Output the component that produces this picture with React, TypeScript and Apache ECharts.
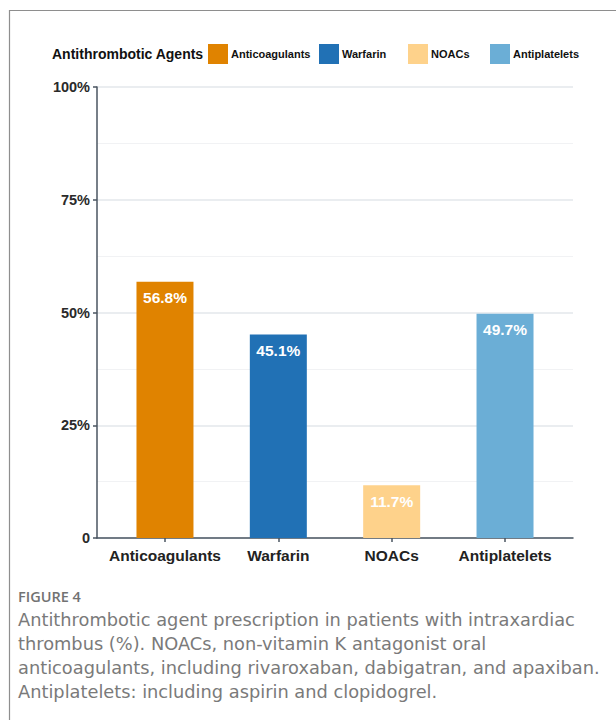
import React, { useEffect, useRef } from "react";
import * as echarts from "echarts";

const categories = ["Anticoagulants", "Warfarin", "NOACs", "Antiplatelets"];
const values = [56.8, 45.1, 11.7, 49.7];
const barColors = ["#E08300", "#2171B5", "#FED28B", "#6BAED6"];
const legendTitle = "Antithrombotic Agents";
const yTickValues = [0, 25, 50, 75, 100];
const figureLabel = "FIGURE 4";
const captionLines = [
  "Antithrombotic agent prescription in patients with intraxardiac",
  "thrombus (%). NOACs, non-vitamin K antagonist oral",
  "anticoagulants, including rivaroxaban, dabigatran, and apaxiban.",
  "Antiplatelets: including aspirin and clopidogrel.",
];

const legendLefts = [208, 319, 408, 490];

export default function App() {
  const ref = useRef<HTMLDivElement>(null);
  useEffect(() => {
    if (!ref.current) return;
    const chart = echarts.init(ref.current, undefined, { renderer: "svg" });
    const font = "Liberation Sans, Arial, Helvetica, sans-serif";
    const capFont = "DejaVu Sans, Open Sans, sans-serif";
    const axisColor = "#4a5561";

    const series = categories.map((name, i) => ({
      name,
      type: "bar",
      xAxisIndex: 1,
      yAxisIndex: 1,
      stack: "all",
      barWidth: 57,
      itemStyle: { color: barColors[i] },
      label: {
        show: true,
        position: "insideTop",
        distance: 8,
        color: "#ffffff",
        fontFamily: font,
        fontWeight: "bold",
        fontSize: 15.5,
        formatter: (p: any) => Number(p.value).toFixed(1) + "%",
      },
      data: categories.map((_, j) => (j === i ? values[i] : null)),
    }));

    const legends = categories.map((name, i) => ({
      data: [name],
      left: legendLefts[i],
      top: 44,
      padding: 0,
      icon: "rect",
      itemWidth: 20,
      itemHeight: 20,
      selectedMode: false,
      textStyle: {
        fontFamily: font,
        fontWeight: "bold",
        fontSize: 11,
        color: "#111111",
        padding: [0, 0, 0, -2],
      },
    }));

    const graphics: any[] = [
      {
        type: "rect",
        shape: { x: 9.5, y: 10.5, width: 700, height: 800 },
        style: { fill: "none", stroke: "#8e8e8e", lineWidth: 1.2 },
        silent: true,
      },
      {
        type: "text",
        x: 52,
        y: 54,
        style: {
          text: legendTitle,
          fontFamily: font,
          fontWeight: "bold",
          fontSize: 14,
          fill: "#111111",
          verticalAlign: "middle",
        },
      },
      {
        type: "text",
        x: 18,
        y: 596,
        style: {
          text: figureLabel,
          fontFamily: "Open Sans, Noto Sans, sans-serif",
          fontWeight: 600,
          fontSize: 14.5,
          fill: "#727272",
          verticalAlign: "middle",
        },
      },
      ...captionLines.map((t, i) => ({
        type: "text",
        x: 18,
        y: 619 + i * 24,
        style: {
          text: t,
          fontFamily: capFont,
          fontWeight: "normal",
          fontSize: 17.8,
          lineHeight: 22,
          fill: "#7a7a7a",
          verticalAlign: "middle",
        },
      })),
    ];

    chart.setOption({
      animation: false,
      backgroundColor: "#ffffff",
      legend: legends,
      graphic: graphics,
      grid: [
        { left: 97, right: 43, top: 87, bottom: 182 },
        { left: 108.3, right: 54.3, top: 87, bottom: 182 },
      ],
      xAxis: [
        {
          type: "value",
          gridIndex: 0,
          min: 0,
          max: 1,
          axisLine: { show: true, lineStyle: { color: axisColor, width: 1.5 } },
          axisTick: { show: false },
          axisLabel: { show: false },
          splitLine: { show: false },
        },
        {
          type: "category",
          gridIndex: 1,
          data: categories,
          axisLine: { show: false },
          axisTick: {
            show: true,
            interval: 0,
            alignWithLabel: true,
            length: 4,
            lineStyle: { color: axisColor, width: 1.5 },
          },
          axisLabel: {
            interval: 0,
            margin: 9,
            fontFamily: font,
            fontWeight: "bold",
            fontSize: 15.5,
            color: "#222222",
          },
        },
      ],
      yAxis: [
        {
          type: "value",
          gridIndex: 0,
          min: yTickValues[0],
          max: yTickValues[yTickValues.length - 1],
          interval: yTickValues[1] - yTickValues[0],
          axisLine: { show: true, lineStyle: { color: axisColor, width: 1.5 } },
          axisTick: { show: true, length: 4, lineStyle: { color: axisColor, width: 1.5 } },
          axisLabel: {
            margin: 7,
            fontFamily: font,
            fontWeight: "bold",
            fontSize: 14.5,
            color: "#2a2a2a",
            formatter: (v: number) => (v === 0 ? "0" : v + "%"),
          },
          splitLine: { show: true, lineStyle: { color: "#e3e7eb", width: 1.5 } },
          minorTick: { show: false, splitNumber: 2 },
          minorSplitLine: { show: true, lineStyle: { color: "#f1f2f4", width: 1 } },
        },
        {
          type: "value",
          gridIndex: 1,
          min: yTickValues[0],
          max: yTickValues[yTickValues.length - 1],
          show: false,
          splitLine: { show: false },
        },
      ],
      series,
    });
    return () => chart.dispose();
  }, []);
  return (
    <div
      ref={ref}
      style={{ position: "absolute", left: 0, top: 0, width: 616, height: 720 }}
    />
  );
}
